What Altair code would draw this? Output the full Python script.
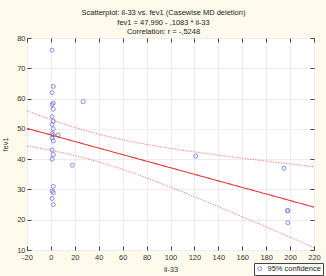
import altair as alt
import numpy as np
import pandas as pd

# ---- data ----
il33 = [1, 2, 1, 2, 1, 2, 1, 2, 1, 2, 1, 2, 1, 2, 1, 2, 1, 2, 1, 2, 1, 2,
        6, 18, 27, 121, 195, 198, 198, 198]
fev1 = [76, 64, 62, 58.5, 58, 56.5, 54, 52.5, 51.5, 50, 48.5, 48, 47, 46, 43, 41.5, 40,
        31, 29.5, 29, 27, 25,
        48, 38, 59, 41, 37, 23, 23, 19]
intercept = 47.990
slope = -0.1083
t_crit = 2.048  # t(0.975, df=28)
x_ticks = [-20, 0, 20, 40, 60, 80, 100, 120, 140, 160, 180, 200, 220]
y_ticks = [10, 20, 30, 40, 50, 60, 70, 80]
title_lines = ["Scatterplot: il-33 vs. fev1 (Casewise MD deletion)",
               "fev1 = 47,990 - ,1083  * il-33",
               "Correlation: r = -,5248"]
legend_label = "95% confidence"

# ---- derived: fitted line and 95% confidence band of the mean ----
xa = np.array(il33, dtype=float)
ya = np.array(fev1, dtype=float)
n = len(xa)
xbar = xa.mean()
sxx = ((xa - xbar) ** 2).sum()
resid = ya - (intercept + slope * xa)
s = np.sqrt((resid ** 2).sum() / (n - 2))
xs = np.linspace(x_ticks[0], x_ticks[-1], 97)
fit = intercept + slope * xs
hw = t_crit * s * np.sqrt(1.0 / n + (xs - xbar) ** 2 / sxx)

pts = pd.DataFrame({"x": il33, "y": fev1, "series": legend_label})
line_df = pd.DataFrame({"x": xs, "y": fit})
band_df = pd.concat([
    pd.DataFrame({"x": xs, "y": fit + hw, "b": "upper"}),
    pd.DataFrame({"x": xs, "y": fit - hw, "b": "lower"}),
])

FONT = "Liberation Sans"
FS = 7.5
xscale = alt.Scale(domain=[x_ticks[0], x_ticks[-1]], nice=False, zero=False)
yscale = alt.Scale(domain=[y_ticks[0], y_ticks[-1]], nice=False, zero=False)

common_axis = dict(labelFont=FONT, labelFontSize=FS, labelColor="#333",
                   labelExpr="'' + datum.value", labelFlush=False,
                   titleFont=FONT, titleFontSize=FS, titleFontWeight="normal",
                   titleColor="#333", tickColor="#444", tickSize=4, offset=-4,
                   domain=False, gridColor="#ececec", gridWidth=1)

points = alt.Chart(pts).mark_point(shape="circle", filled=False, size=16,
                                   strokeWidth=1, clip=True).encode(
    x=alt.X("x:Q", scale=xscale,
            axis=alt.Axis(values=x_ticks, title="il-33", grid=True,
                          labelPadding=3, titlePadding=5, **common_axis)),
    y=alt.Y("y:Q", scale=yscale,
            axis=alt.Axis(values=y_ticks, title="fev1", grid=True,
                          labelPadding=2, titlePadding=7, **common_axis)),
    color=alt.Color("series:N",
                    scale=alt.Scale(domain=[legend_label], range=["#5c5cdc"]),
                    legend=alt.Legend(title=None, orient="none",
                                      legendX=227, legendY=225,
                                      strokeColor="#444", fillColor="white",
                                      padding=2, labelFont=FONT,
                                      labelFontSize=FS, labelColor="#222",
                                      symbolType="circle", symbolSize=16,
                                      symbolFillColor="transparent",
                                      symbolStrokeWidth=1, rowPadding=0,
                                      cornerRadius=0)),
)

top_right_axis = dict(labels=False, title=None, grid=False, ticks=True,
                      tickColor="#444", tickSize=4, offset=-4, domain=False)

reg = alt.Chart(line_df).mark_line(color="#e03a3a", strokeWidth=1.1, clip=True).encode(
    x=alt.X("x:Q", scale=xscale, axis=alt.Axis(orient="top", values=x_ticks, **top_right_axis)),
    y=alt.Y("y:Q", scale=yscale, axis=alt.Axis(orient="right", values=y_ticks, **top_right_axis)),
)

bands = alt.Chart(band_df).mark_line(color="#e8707e", strokeWidth=1,
                                     strokeDash=[1.2, 1.4], clip=True).encode(
    x=alt.X("x:Q", scale=xscale, axis=None),
    y=alt.Y("y:Q", scale=yscale, axis=None),
    detail="b:N",
)

chart = alt.layer(points, bands, reg).resolve_axis(
    x="independent", y="independent"
).resolve_scale(x="shared", y="shared").properties(
    width=287, height=212,
    autosize=alt.AutoSizeParams(type="none"),
    padding={"left": 27, "top": 38, "right": 12, "bottom": 26},
    background="#fdfaeb",
    title=alt.TitleParams(text=title_lines, font=FONT, fontSize=FS,
                          fontWeight="normal", color="#222", anchor="middle",
                          dx=-7, dy=7, offset=5, lineHeight=9.7),
).configure_view(stroke="#444", strokeWidth=1, fill="white")

chart.save("out.html", embed_options={"renderer": "svg", "actions": False})
